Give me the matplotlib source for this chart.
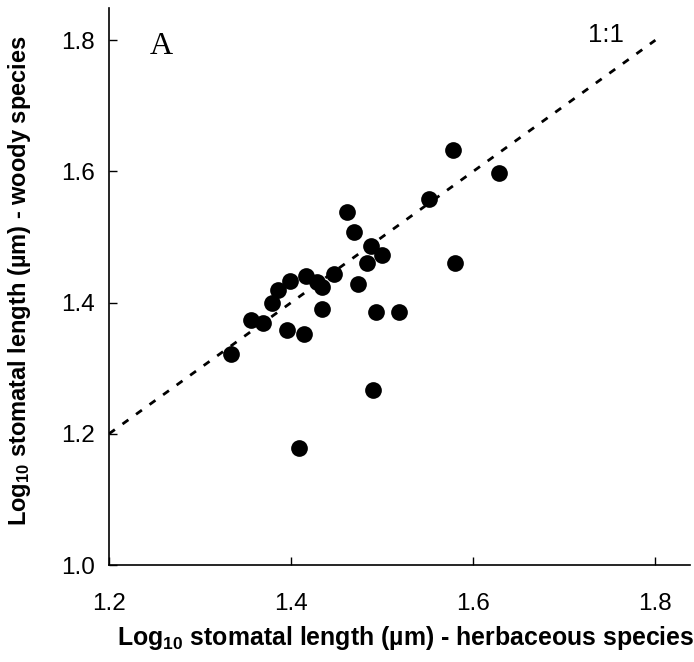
import matplotlib
matplotlib.use("Agg")
import matplotlib.pyplot as plt

herb = [1.334, 1.356, 1.369, 1.379, 1.386, 1.399, 1.396, 1.416, 1.414, 1.428,
        1.434, 1.434, 1.409, 1.447, 1.461, 1.469, 1.473, 1.483, 1.488, 1.500,
        1.490, 1.493, 1.519, 1.551, 1.578, 1.580, 1.628]
woody = [1.321, 1.374, 1.369, 1.399, 1.419, 1.433, 1.358, 1.441, 1.352, 1.431,
         1.423, 1.390, 1.178, 1.444, 1.538, 1.508, 1.428, 1.460, 1.486, 1.473,
         1.266, 1.385, 1.385, 1.558, 1.633, 1.460, 1.598]
line_1to1 = [1.2, 1.8]
xticks = [1.2, 1.4, 1.6, 1.8]
yticks = [1.0, 1.2, 1.4, 1.6, 1.8]

plt.rcParams['font.family'] = ['Liberation Sans', 'DejaVu Sans']
plt.rcParams['mathtext.fontset'] = 'custom'
plt.rcParams['mathtext.rm'] = 'Liberation Sans:bold'
plt.rcParams['mathtext.it'] = 'Liberation Sans:bold'
plt.rcParams['mathtext.bf'] = 'Liberation Sans:bold'

fig = plt.figure(figsize=(6.94, 6.62), dpi=100)
ax = fig.add_axes([109/694, 97/662, 581/694, 557/662])

ax.plot(line_1to1, line_1to1, color='black', lw=2.0, linestyle=(0, (2.6, 3.4)))
ax.scatter(herb, woody, s=145, color='black', zorder=3, linewidths=0)

ax.set_xlim(1.2, 1.838)
ax.set_ylim(1.0, 1.849)
ax.set_xticks(xticks)
ax.set_yticks(yticks)
ax.set_xticklabels([f"{v:.1f}" for v in xticks])
ax.set_yticklabels([f"{v:.1f}" for v in yticks])
ax.tick_params(direction='in', length=6, width=1, labelsize=17.5)
ax.tick_params(axis='x', pad=20)
ax.tick_params(axis='y', pad=10)
for s in ['top', 'right']:
    ax.spines[s].set_visible(False)
for s in ['left', 'bottom']:
    ax.spines[s].set_linewidth(1.2)

ax.set_xlabel(r'Log$_{10}$ stomatal length (µm) - herbaceous species',
              fontsize=17.9, fontweight='bold')
ax.xaxis.set_label_coords(0.511, -(645 - 565) / 557)
ax.xaxis.label.set_va('baseline')
ax.set_ylabel(r'Log$_{10}$ stomatal length (µm) - woody species',
              fontsize=17, fontweight='bold')
ax.yaxis.set_label_coords(-(109 - 20) / 581, (565 - 281) / 557)
ax.yaxis.label.set_va('center')

ax.text(1.245, 1.79, 'A', family='Liberation Serif', fontsize=23, va='center', ha='left')
ax.text(1.726, 1.808, '1:1', fontsize=18.5, va='center', ha='left')

fig.savefig('out.png', dpi=100)
